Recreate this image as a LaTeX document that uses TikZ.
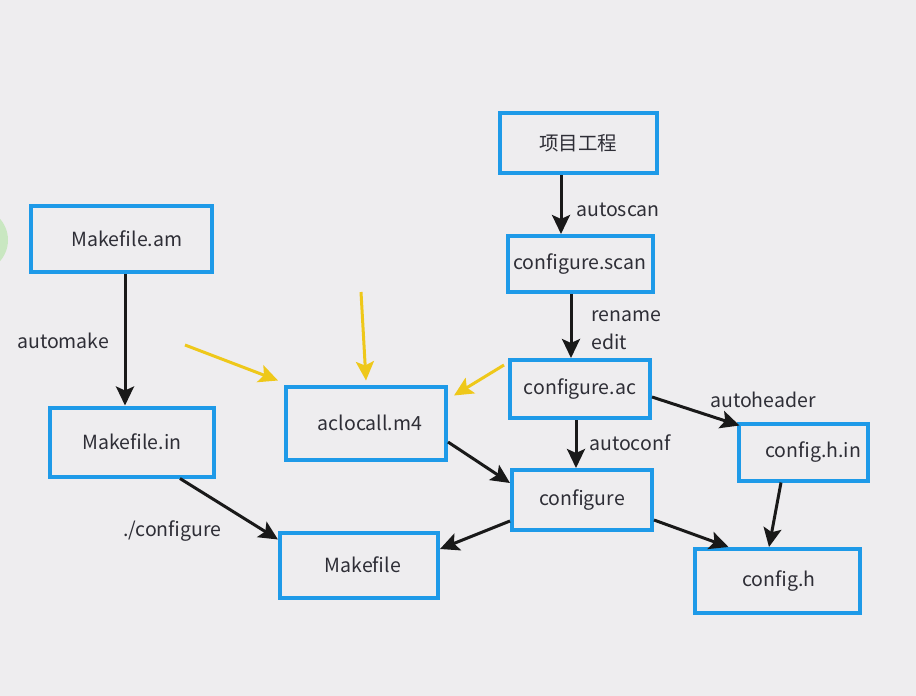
\documentclass[tikz,border=0pt]{standalone}
\usepackage{fontspec}
\setmainfont{Noto Sans CJK SC}
\usetikzlibrary{arrows.meta}
\definecolor{bgGray}{HTML}{EEEDEF}
\definecolor{boxBlue}{HTML}{1E9AE8}
\definecolor{argYellow}{HTML}{EEC81A}
\definecolor{txtGray}{HTML}{2E2E36}
\definecolor{dotGreen}{HTML}{9EE08A}
\begin{document}
\begin{tikzpicture}[x=1pt,y=-1pt,
  file/.style={draw=boxBlue,line width=4pt,fill=bgGray,text=txtGray,
    inner sep=0pt,font=\fontsize{19.5}{21}\selectfont},
  step arrow/.style={draw=black!90,line width=3pt,
    -{Stealth[length=19pt,width=18pt,inset=4pt]}},
  hint arrow/.style={draw=argYellow,line width=3pt,
    -{Stealth[length=19pt,width=18pt,inset=4pt]}},
  tool/.style={text=txtGray,font=\fontsize{19.5}{21}\selectfont,inner sep=0pt,anchor=west}]
%canvas
\fill[bgGray](0,0) rectangle (916,696);
\useasboundingbox (0,0) rectangle (916,696);
\begin{scope}
\clip (0,0) rectangle (916,696);
\fill[dotGreen,opacity=0.45](-24,240) circle (32);
\end{scope}
%files
\node[file,minimum width=157pt,minimum height=60pt] (proj) at (578,143) {项目工程};
\node[file,minimum width=145pt,minimum height=56pt] (scan) at (580,264) {configure.scan};
\node[file,minimum width=181pt,minimum height=66pt] (am) at (121,239) {\hspace*{12pt}Makefile.am};
\node[file,minimum width=164pt,minimum height=69pt] (in) at (132,442) {Makefile.in};
\node[file,minimum width=160pt,minimum height=73pt] (m4) at (366,423) {\hspace*{8pt}aclocall.m4};
\node[file,minimum width=140pt,minimum height=58pt] (ac) at (580,389) {configure.ac};
\node[file,minimum width=129pt,minimum height=57pt] (hin) at (803,452) {\hspace*{20pt}config.h.in};
\node[file,minimum width=140pt,minimum height=60pt] (conf) at (582,500) {configure};
\node[file,minimum width=158pt,minimum height=65pt] (mf) at (359,565) {\hspace*{8pt}Makefile};
\node[file,minimum width=165pt,minimum height=64pt] (cfh) at (777,581) {\hspace*{4pt}config.h};
%tool labels
\node[tool] (tscan) at (576,210) {autoscan};
\node[tool] (tren) at (591,316) {rename};
\node[tool] (tedit) at (591,342) {edit};
\node[tool] (tmake) at (17,341) {automake};
\node[tool] (thead) at (710,400) {autoheader};
\node[tool] (tconf) at (589,443) {autoconf};
\node[tool] (trun) at (123,531) {./configure};
%black arrows
\draw[step arrow]([xshift=-17pt]proj.south)--([xshift=-17pt]proj.south |- scan.north);
\draw[step arrow]([xshift=-9pt]scan.south)--([xshift=-9pt]scan.south |- ac.north);
\draw[step arrow]([xshift=4pt]am.south)--([xshift=4pt]am.south |- in.north);
\draw[step arrow]([yshift=-8pt]ac.east)--([xshift=3pt,yshift=-4pt]hin.north west);
\draw[step arrow]([xshift=-4pt]ac.south)--([xshift=-4pt]ac.south |- conf.north);
\draw[step arrow]([yshift=-19pt]m4.east)--([yshift=17pt]conf.west);
\draw[step arrow]([xshift=-22pt]hin.south)--([xshift=-8pt]cfh.north);
\draw[step arrow]([yshift=-20pt]conf.east)--([xshift=36pt]cfh.north west);
\draw[step arrow]([xshift=48pt]in.south)--([yshift=-9pt]mf.north west);
\draw[step arrow]([yshift=-21pt]conf.west)--([yshift=16pt]mf.east);
%yellow arrows
\coordinate (y1) at (185,345);
\coordinate (y2) at (361,292);
\coordinate (y3) at (504,365);
\draw[hint arrow](y1)--([xshift=-6pt,yshift=4pt]m4.north west);
\draw[hint arrow](y2)--([yshift=4pt]m4.north);
\draw[hint arrow](y3)--([xshift=6pt,yshift=-11pt]m4.north east);
\end{tikzpicture}
\end{document}
